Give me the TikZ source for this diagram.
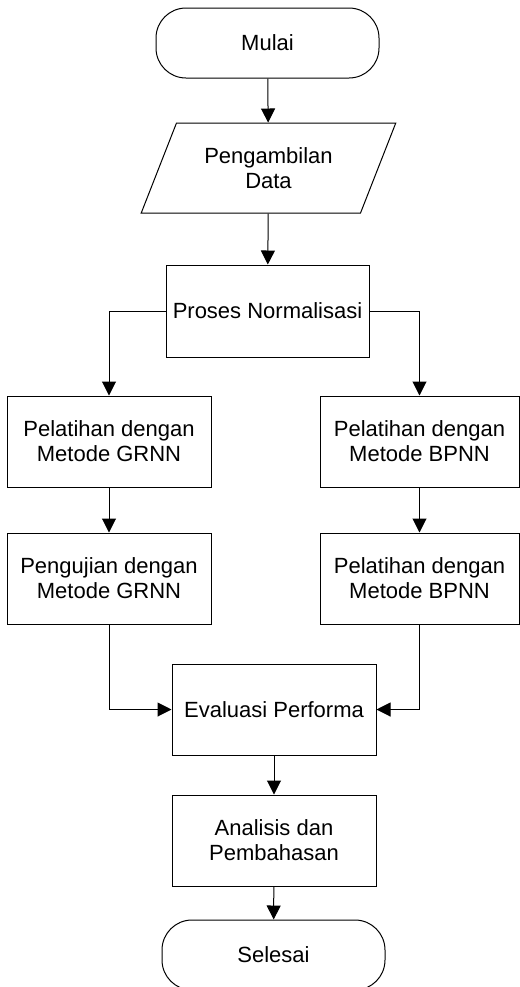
\documentclass[tikz,border=0pt]{standalone}
\usepackage{fontspec}
\setmainfont{Liberation Sans}
\usetikzlibrary{arrows.meta,shapes.geometric}

\begin{document}
\begin{tikzpicture}[x=0.5pt,y=-0.5pt,font=\fontsize{11}{12.5}\selectfont,>={Triangle[length=7pt,width=7pt]},
  stepbox/.style={rectangle,draw=black,line width=0.5pt,minimum width=102pt,minimum height=45.5pt,inner sep=2pt,align=center},
  terminal/.style={rectangle,rounded corners=15pt,draw=black,line width=0.5pt,minimum width=111.5pt,minimum height=35pt,inner sep=2pt,align=center},
  inputbox/.style={trapezium,trapezium left angle=62,trapezium right angle=118,trapezium stretches=true,draw=black,line width=0.5pt,minimum width=128.5pt,minimum height=45pt,inner sep=2pt,align=center},
  link/.style={->,draw=black,line width=0.5pt}]
\useasboundingbox (0,0) rectangle (520,987);
\node[terminal] (mulai) at (267.5,43) {Mulai};
\node[inputbox] (data) at (268.5,168) {Pengambilan\\Data};
\node[stepbox,minimum width=101.5pt,minimum height=46pt] (norm) at (267.5,311) {Proses Normalisasi};
\node[stepbox] (latihgrnn) at (109,441.5) {Pelatihan dengan\\Metode GRNN};
\node[stepbox] (ujigrnn) at (109,578.5) {Pengujian dengan\\Metode GRNN};
\node[stepbox,minimum width=99.5pt] (latihbpnn) at (419.5,441.5) {Pelatihan dengan\\Metode BPNN};
\node[stepbox,minimum width=99.5pt] (ujibpnn) at (419.5,578.5) {Pelatihan dengan\\Metode BPNN};
\node[stepbox] (evaluasi) at (274,709.5) {Evaluasi Performa};
\node[stepbox] (analisis) at (274,840.5) {Analisis dan\\Pembahasan};
\node[terminal] (selesai) at (273.5,955) {Selesai};
\draw[link] (mulai) -- (data);
\draw[link] (data) -- (norm);
\draw[link] (norm.west) -| (latihgrnn.north);
\draw[link] (norm.east) -| (latihbpnn.north);
\draw[link] (latihgrnn) -- (ujigrnn);
\draw[link] (latihbpnn) -- (ujibpnn);
\draw[link] (ujigrnn.south) |- (evaluasi.west);
\draw[link] (ujibpnn.south) |- (evaluasi.east);
\draw[link] (evaluasi) -- (analisis);
\draw[link] (analisis) -- (selesai);
\end{tikzpicture}
\end{document}
